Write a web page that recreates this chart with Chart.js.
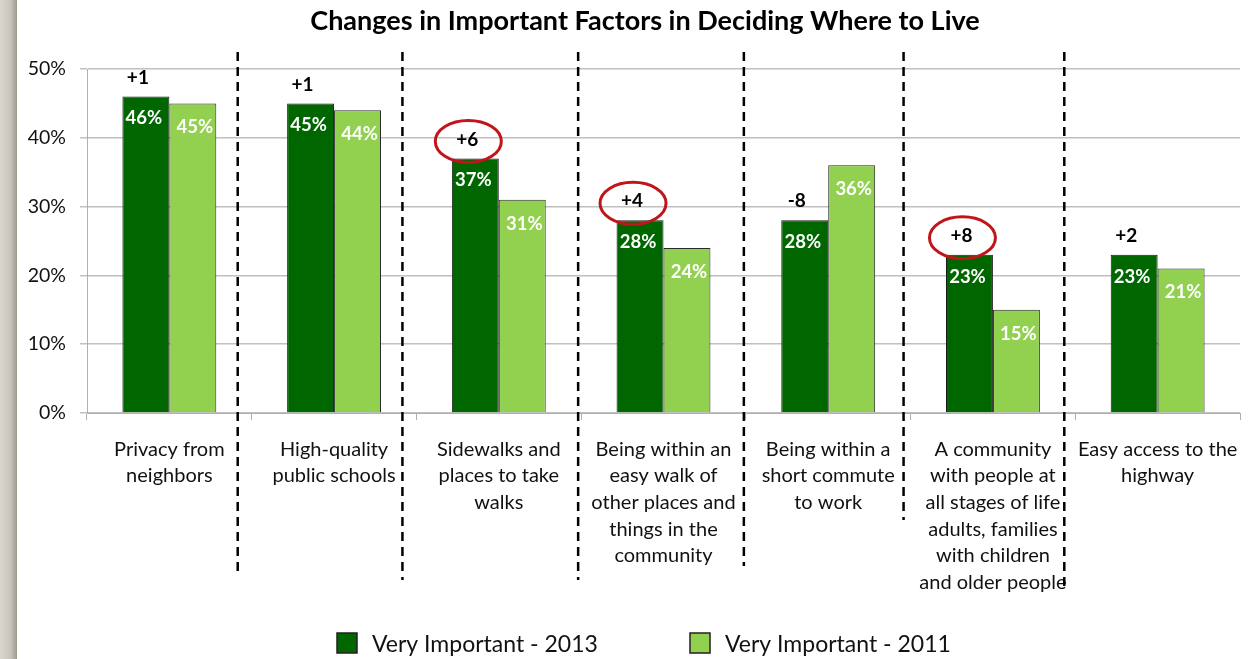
<!doctype html>
<html lang="en">
<head>
<meta charset="utf-8">
<title>Changes in Important Factors in Deciding Where to Live</title>
<script src="https://cdn.jsdelivr.net/npm/chart.js@4.4.0/dist/chart.umd.min.js"></script>
<style>
  html, body { margin: 0; padding: 0; background: #fff; }
  #wrap { position: relative; width: 1256px; height: 659px; }
  #edge { position: absolute; left: 0; top: 0; width: 17px; height: 659px;
          background: linear-gradient(to right, #d9d6cf, #c9c5bc 60%, #9e9a92); }
  canvas { position: absolute; left: 0; top: 0; }
</style>
</head>
<body>
<div id="wrap">
  <canvas id="chart" width="1256" height="659"></canvas>
  <div id="edge"></div>
</div>
<script>
// data
var categorias = [
  ['Privacy from', 'neighbors'],
  ['High-quality', 'public schools'],
  ['Sidewalks and', 'places to take', 'walks'],
  ['Being within an', 'easy walk of', 'other places and', 'things in the', 'community'],
  ['Being within a', 'short commute', 'to work'],
  ['A community', 'with people at', 'all stages of life', 'adults, families', 'with children', 'and older people'],
  ['Easy access to the', 'highway']
];
var muy2013 = [46, 45, 37, 28, 28, 23, 23];
var muy2011 = [45, 44, 31, 24, 36, 15, 21];
var cambios = ['+1', '+1', '+6', '+4', '-8', '+8', '+2'];
var marcados = [2, 3, 5];          // changes circled in red
var ticksY = [0, 10, 20, 30, 40, 50];

var fuente = 'Lato, "Open Sans", sans-serif';

// dashed separators, title, value labels, change labels, legend
var extras = {
  id: 'extras',
  afterDatasetsDraw: function (chart) {
    var ctx = chart.ctx;
    var x = chart.scales.x;
    var meta0 = chart.getDatasetMeta(0);
    var meta1 = chart.getDatasetMeta(1);

    // value labels inside the bars
    ctx.save();
    ctx.fillStyle = '#fff';
    ctx.font = 'bold 18.5px ' + fuente;
    ctx.textAlign = 'center';
    ctx.textBaseline = 'middle';
    meta0.data.forEach(function (b, i) {
      ctx.fillText(muy2013[i] + '%', b.x - 2, b.y + 22);
    });
    meta1.data.forEach(function (b, i) {
      ctx.fillText(muy2011[i] + '%', b.x + 2, b.y + 24);
    });

    // change labels above the 2013 bars
    ctx.fillStyle = '#000';
    ctx.font = 'bold 19px ' + fuente;
    meta0.data.forEach(function (b, i) {
      ctx.fillText(cambios[i], b.x - 8, b.y - 19);
    });

    // red circles
    ctx.strokeStyle = '#c0151b';
    ctx.lineWidth = 3;
    marcados.forEach(function (i) {
      var b = meta0.data[i];
      ctx.beginPath();
      ctx.ellipse(b.x - 7, b.y - 17, 33, 21, 0, 0, Math.PI * 2);
      ctx.stroke();
    });

    // dashed separators between categories
    var bajos = [575, 580, 580, 566, 520, 592];
    var corr = [-14, -14, -3, -2, -7, -11];
    ctx.strokeStyle = '#000';
    ctx.lineWidth = 2.5;
    ctx.setLineDash([9, 6]);
    for (var k = 0; k < categorias.length - 1; k++) {
      var px = (x.getPixelForValue(k) + x.getPixelForValue(k + 1)) / 2 + corr[k];
      ctx.beginPath();
      ctx.moveTo(px, 52);
      ctx.lineTo(px, bajos[k]);
      ctx.stroke();
    }
    ctx.setLineDash([]);

    // title
    ctx.fillStyle = '#000';
    ctx.font = 'bold 27px ' + fuente;
    ctx.textBaseline = 'middle';
    ctx.fillText('Changes in Important Factors in Deciding Where to Live', 645, 21);

    // legend
    var items = [
      { label: chart.data.datasets[0].label, color: chart.data.datasets[0].backgroundColor, x: 337 },
      { label: chart.data.datasets[1].label, color: chart.data.datasets[1].backgroundColor, x: 690 }
    ];
    ctx.font = '23px ' + fuente;
    ctx.textAlign = 'left';
    items.forEach(function (it) {
      ctx.fillStyle = it.color;
      ctx.fillRect(it.x, 633, 20, 20);
      ctx.strokeStyle = '#222';
      ctx.lineWidth = 1.5;
      ctx.strokeRect(it.x, 633, 20, 20);
      ctx.fillStyle = '#111';
      ctx.fillText(it.label, it.x + 35, 645);
    });
    ctx.restore();
  }
};

new Chart(document.getElementById('chart').getContext('2d'), {
  type: 'bar',
  data: {
    labels: categorias,
    datasets: [{
      label: 'Very Important - 2013',
      data: muy2013,
      backgroundColor: '#006600',
      borderColor: '#1b1b1b',
      borderWidth: 1
    }, {
      label: 'Very Important - 2011',
      data: muy2011,
      backgroundColor: '#92d050',
      borderColor: '#2a2a2a',
      borderWidth: 1
    }]
  },
  options: {
    responsive: false,
    animation: false,
    layout: { padding: { top: 69, right: 16, left: 0, bottom: 0 } },
    datasets: { bar: { categoryPercentage: 0.57, barPercentage: 1.0 } },
    plugins: {
      legend: { display: false },
      title: { display: false },
      tooltip: { enabled: false }
    },
    scales: {
      x: {
        offset: true,
        grid: { display: true, drawOnChartArea: false, drawTicks: true, tickLength: 7, color: '#b0b0b0', offset: true },
        border: { display: true, color: '#b0b0b0' },
        ticks: {
          autoSkip: false, maxRotation: 0, minRotation: 0, padding: 16,
          color: '#111', font: { family: fuente, size: 20, lineHeight: 1.33 }
        },
        afterFit: function (s) { s.height = 659 - 413; }
      },
      y: {
        min: 0, max: 50,
        afterBuildTicks: function (s) { s.ticks = ticksY.map(function (v) { return { value: v }; }); },
        grid: { color: '#c0c0c0', lineWidth: 1.5, tickLength: 7 },
        border: { display: true, color: '#b0b0b0' },
        ticks: {
          padding: 14, color: '#111',
          font: { family: fuente, size: 19.5 },
          callback: function (v) { return v + '%'; }
        },
        afterFit: function (s) { s.width = 87; }
      }
    }
  },
  plugins: [extras]
});
</script>
</body>
</html>
